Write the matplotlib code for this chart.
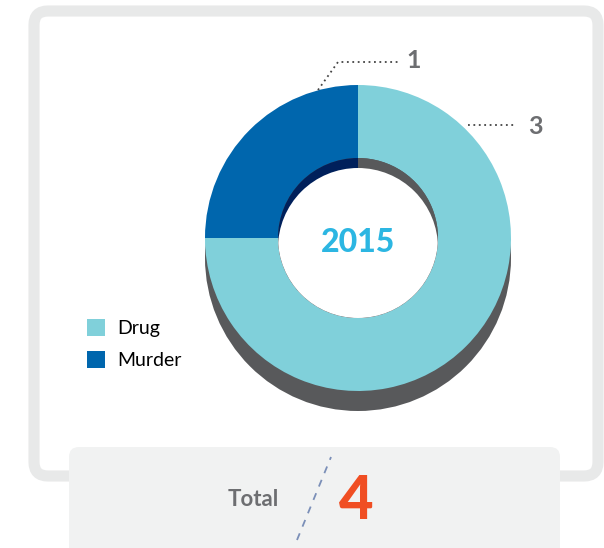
import matplotlib.pyplot as plt
from matplotlib.patches import Circle, FancyBboxPatch, Patch

# data
categories = ['Drug', 'Murder']
values = [3, 1]
year = '2015'
total = sum(values)

colors = ['#80d0da', '#0066ad']
wall_colors = ['#58595b', '#00205b']
H = 548

plt.rcParams['font.family'] = ['Lato', 'DejaVu Sans']

fig = plt.figure(figsize=(6.04, 5.48), dpi=100)
ax = fig.add_axes([0, 0, 1, 1])

# outer frame and bottom box
frame = FancyBboxPatch((34, H - 476), 564, 465, boxstyle='round,pad=0,rounding_size=14',
                       fc='white', ec='#e8e9e9', lw=8, zorder=0)
ax.add_patch(frame)
box = FancyBboxPatch((69, -20), 491, H - 447 + 20, boxstyle='round,pad=0,rounding_size=10',
                     fc='#f1f2f2', ec='none', zorder=1)
ax.add_patch(box)

# donut with 3d shadow
cx, cy = 358, H - 238
R, r_in = 153, 80
ax.add_patch(Circle((cx, cy - 20), R, fc='#58595b', ec='none', zorder=2))
wedges, _ = ax.pie(values[::-1], colors=colors[::-1], center=(cx, cy), radius=R,
                   startangle=90, wedgeprops=dict(width=R - r_in, lw=0))
for w in wedges:
    w.set_zorder(3)
walls, _ = ax.pie(values[::-1], colors=wall_colors[::-1], center=(cx, cy), radius=r_in,
                  startangle=90, wedgeprops=dict(lw=0))
for w in walls:
    w.set_zorder(3)
hole_clip = Circle((cx, cy), r_in, transform=ax.transData)
hole = Circle((cx, cy - 10), r_in, fc='white', ec='none', zorder=4)
ax.add_patch(hole)
hole.set_clip_path(hole_clip)

ax.text(cx, cy - 4, year, ha='center', va='center', fontsize=23, fontweight='black',
        color='#2cb6e2', zorder=5)

# value labels with dotted leaders
lab_col = '#6d6e71'
ax.plot([318, 338, 400], [H - 90, H - 62, H - 62], color='#444444', lw=1.3,
        ls=(0, (1, 2)), zorder=5)
ax.text(414, H - 60, str(values[1]), ha='center', va='center', fontsize=18,
        fontweight='bold', color=lab_col)
ax.plot([468, 515], [H - 125, H - 125], color='#444444', lw=1.3, ls=(0, (1, 2)), zorder=5)
ax.text(535, H - 126, str(values[0]), ha='center', va='center', fontsize=18,
        fontweight='bold', color=lab_col)

# legend
handles = [Patch(fc=c, ec='none') for c in colors]
ax.legend(handles, categories, loc='upper left', bbox_to_anchor=(79 / 604, 1 - 311 / H),
          frameon=False, fontsize=14, handlelength=0.95, handleheight=0.95,
          handletextpad=0.6, labelspacing=0.75, borderaxespad=0)

# total
ax.text(253, H - 500, 'Total', ha='center', va='center', fontsize=16, fontweight='bold',
        color='#6d6e71', zorder=5)
ax.plot([297, 331], [H - 540, H - 457], color='#7b8fb8', lw=1.3, ls=(0, (4, 4)), zorder=5)
ax.text(356, H - 501, str(total), ha='center', va='center', fontsize=43, fontweight='black',
        color='#f04e23', zorder=5)

ax.set_xlim(0, 604)
ax.set_ylim(0, H)
ax.set_aspect('auto')
ax.axis('off')

plt.savefig('out.png', dpi=100)
